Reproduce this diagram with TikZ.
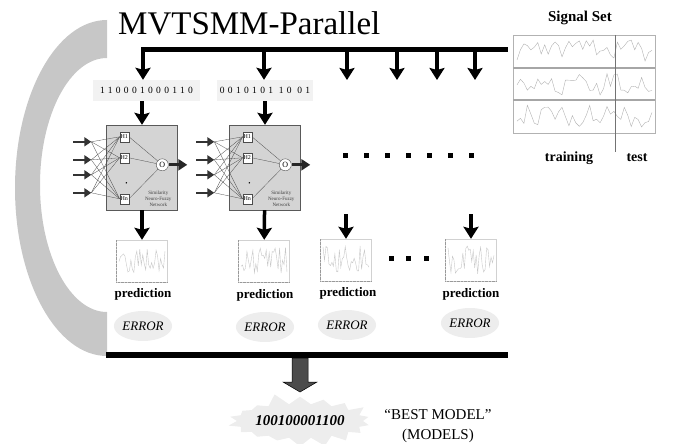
\documentclass[tikz,border=0pt]{standalone}
\usepackage{fontspec}
\setmainfont{Liberation Serif}
\usetikzlibrary{arrows.meta,shapes.geometric,shapes.symbols,positioning}

\begin{document}
\begin{tikzpicture}[x=1pt, y=-1pt]
    % Stili
    \tikzset{
        bigarrow/.style={line width=3.5pt, -{Stealth[length=12pt,width=15pt,inset=2pt]}},
        inarrow/.style={line width=2.5pt, black!80, -{Triangle[length=7pt,width=9pt]}},
        outarrow/.style={line width=3pt, black!85, -{Triangle[length=9pt,width=11pt]}},
        thinline/.style={black!70, line width=0.3pt},
        bitbox/.style={rectangle, fill=black!5, minimum height=21pt, inner sep=0pt,
                      font=\fontsize{9.5}{10}\selectfont\addfontfeature{LetterSpace=35}},
        netbox/.style={rectangle, draw=black!65, fill=black!17,
                      minimum width=71pt, minimum height=85pt},
        hbox/.style={rectangle, draw=black!70, fill=white, minimum width=9pt,
                    minimum height=10pt, inner sep=0.3pt, font=\fontsize{6}{6}\selectfont},
        onode/.style={circle, draw=black!70, fill=white, minimum size=12pt,
                     inner sep=0pt, font=\fontsize{8}{8}\selectfont},
        netlabel/.style={align=center, inner sep=0pt, text=black!75,
                        font=\fontsize{5}{5.6}\selectfont},
        chart/.style={rectangle, draw=black!18, minimum width=51pt, minimum height=42pt},
        predlabel/.style={font=\fontsize{13}{13}\selectfont\bfseries},
        errnode/.style={ellipse, fill=black!7, minimum width=55pt, minimum height=30pt,
                       inner sep=0pt, font=\fontsize{13}{13}\selectfont\itshape},
        bestnode/.style={starburst, starburst points=18, starburst point height=12pt,
                        random starburst=5, fill=black!7, minimum width=145pt,
                        minimum height=58pt, inner sep=0pt,
                        font=\fontsize{15}{15}\selectfont\bfseries\itshape}
    }
    \useasboundingbox (0,0) rectangle (675,444);

    % Arco di ritorno
    \fill[black!22] (107,20) arc[start angle=270, end angle=90, x radius=92, y radius=168]
        -- (107,312) arc[start angle=90, end angle=270, x radius=67, y radius=127] -- cycle;

    % Titolo
    \node[anchor=base west, inner sep=0pt, font=\fontsize{33}{33}\selectfont] (title)
        at (118,35) {MVTSMM-Parallel};

    % Barra superiore
    \coordinate (tb0) at (141,50);
    \coordinate (tb1) at (508,50);
    \draw[line width=5pt] (tb0) -- (tb1);

    % Cromosomi
    \node[bitbox, minimum width=107pt] (bits1) at (146.5,90.5) {110001000110};
    \node[bitbox, minimum width=96pt] (bits2) at (265,90.5) {0010101 10 01};

    \coordinate (t1) at (143,50);
    \coordinate (t2) at (264,50);
    \draw[bigarrow] (t1) -- (t1 |- bits1.north);
    \draw[bigarrow] (t2) -- (t2 |- bits2.north);
    \foreach \k/\xx in {3/347, 4/397, 5/437, 6/475} {
        \coordinate (t\k) at (\xx,50);
        \coordinate (e\k) at (\xx,80);
        \draw[bigarrow] (t\k) -- (e\k);
    }

    % Reti neuro-fuzzy
    \foreach \n/\cx in {net1/142, net2/265} {
        \node[netbox] (\n) at (\cx,167.5) {};
        \begin{scope}[shift={(\n.north west)}]
            \node[hbox] (\n-h1) at (18,12) {H1};
            \node[hbox] (\n-h2) at (18,33) {H2};
            \node[hbox] (\n-hn) at (18,74) {Hn};
            \fill (20,58) circle (0.8);
            \node[onode] (\n-o) at (56,40) {O};
            \node[netlabel] (\n-lab) at (52,74) {Similarity\\Neuro-Fuzzy\\Network};
            \foreach \k/\yy in {1/17, 2/35, 3/50, 4/68} {
                \coordinate (\n-s\k) at (-33,\yy);
                \coordinate (\n-i\k) at (-15,\yy);
                \draw[inarrow] (\n-s\k) -- (\n-i\k);
                \foreach \h in {h1,h2,hn}
                    \draw[thinline] (\n-i\k) -- (\n-\h.west);
            }
            \foreach \h in {h1,h2,hn}
                \draw[thinline] (\n-\h.east) -- (\n-o);
            \coordinate (\n-out) at (81,40);
            \draw[outarrow] (\n-o) -- (\n-out);
        \end{scope}
    }
    \draw[bigarrow] (bits1.south -| net1) -- (net1);
    \draw[bigarrow] (bits2.south -| net2) -- (net2);

    % Puntini
    \foreach \k in {0,...,6}
        \fill (345+21*\k-2.5,152.5) rectangle ++(5,5);

    % Previsioni
    \pgfmathsetseed{11}
    \foreach \c/\cx/\cy in {ch1/142/261, ch2/264/261, ch3/346/260, ch4/471/260} {
        \node[chart] (\c) at (\cx,\cy) {};
        \draw[black!40, densely dotted] (\c.south west) -- (\c.south east);
        \draw[black!40, densely dotted] (\c.south west) -- (\c.north west);
        \begin{scope}[shift={(\c.center)}]
            \draw[black!22, line width=0.4pt] plot[domain=-23:23, samples=32] (\x,{rand*14});
        \end{scope}
    }
    \coordinate (d3) at (346,214);
    \coordinate (d4) at (471,214);
    \draw[bigarrow] (net1) -- (ch1);
    \draw[bigarrow] (net2) -- (ch2);
    \draw[bigarrow] (d3) -- (ch3);
    \draw[bigarrow] (d4) -- (ch4);
    \foreach \xx in {391,408,426}
        \fill (\xx-2.5,255.5) rectangle ++(5,5);

    \node[predlabel] (pr1) at (143,294) {prediction};
    \node[predlabel] (pr2) at (265,295) {prediction};
    \node[predlabel] (pr3) at (348,293) {prediction};
    \node[predlabel] (pr4) at (471,294) {prediction};

    \node[errnode] (err1) at (143,326) {ERROR};
    \node[errnode] (err2) at (265,327) {ERROR};
    \node[errnode] (err3) at (347,325) {ERROR};
    \node[errnode] (err4) at (470,323) {ERROR};

    % Barra inferiore e modello migliore
    \coordinate (bb0) at (106,355);
    \coordinate (bb1) at (508,355);
    \draw[line width=6pt] (bb0) -- (bb1);

    \node[bestnode] (best) at (300,421) {100100001100};
    \coordinate (bbar) at (300,358);
    \draw[fill=black!70, draw=black, line width=0.5pt] (bbar) ++(-8,0) -- ++(0,24)
        -- ++(-9,0) -- ++(17,10) -- ++(17,-10) -- ++(-9,0) -- ++(0,-24) -- cycle;
    \node[align=center, font=\fontsize{15}{20}\selectfont] (bestlab) at (438,426)
        {“BEST MODEL”\\(MODELS)};

    % Insieme dei segnali
    \node[font=\fontsize{15}{15}\selectfont\bfseries] (sigtitle) at (580,18) {Signal Set};
    \node[rectangle, draw=black!30, minimum width=142pt, minimum height=98pt] (sigset)
        at (584,84) {};
    \draw[black!35, line width=1.5pt] (sigset.west |- 0,68) -- (sigset.east |- 0,68);
    \draw[black!35, line width=1.5pt] (sigset.west |- 0,100) -- (sigset.east |- 0,100);
    \pgfmathsetseed{4}
    \foreach \yy in {51,84,116}
        \draw[black!30, line width=0.4pt] plot[domain=517:652, samples=40] (\x,{\yy+rand*11});
    \draw[black!55, line width=0.8pt] (615,35) -- (615,152);
    \node[font=\fontsize{14}{14}\selectfont\bfseries] (train) at (569,158) {training};
    \node[font=\fontsize{14}{14}\selectfont\bfseries] (test) at (637,158) {test};
\end{tikzpicture}
\end{document}
